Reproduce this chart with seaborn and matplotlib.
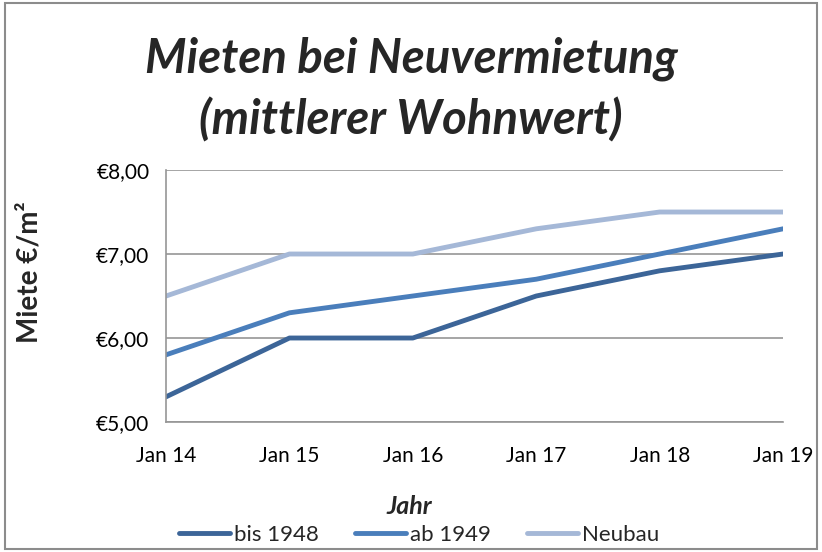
import pandas as pd
import numpy as np
import matplotlib
matplotlib.use("Agg")
import matplotlib.pyplot as plt
import seaborn as sns
from matplotlib.patches import Rectangle
from matplotlib.ticker import FuncFormatter

# data
jahre = ["Jan 14", "Jan 15", "Jan 16", "Jan 17", "Jan 18", "Jan 19"]
bis_1948 = [5.3, 6.0, 6.0, 6.5, 6.8, 7.0]
ab_1949 = [5.8, 6.3, 6.5, 6.7, 7.0, 7.3]
neubau = [6.5, 7.0, 7.0, 7.3, 7.5, 7.5]

serien = ["bis 1948", "ab 1949", "Neubau"]
farben = ["#3C6598", "#4A7EBB", "#A5B8D7"]

df = pd.DataFrame({
    "pos": list(range(len(jahre))) * 3,
    "miete": bis_1948 + ab_1949 + neubau,
    "serie": np.repeat(serien, len(jahre)),
})

sns.set_style("white")
plt.rcParams["font.family"] = ["Lato", "DejaVu Sans"]

fig = plt.figure(figsize=(8.22, 5.52), dpi=100)
ax = fig.add_axes([0.202, 0.2355, 0.7506, 0.4565])

sns.lineplot(data=df, x="pos", y="miete", hue="serie", palette=farben,
             hue_order=serien, linewidth=3.5, ax=ax, solid_capstyle="round")

ax.set_xlim(0, 5)
ax.set_ylim(5, 8)
ax.set_xticks(range(len(jahre)))
ax.set_xticklabels(jahre)
ax.set_yticks([5, 6, 7, 8])
ax.yaxis.set_major_formatter(FuncFormatter(lambda v, p: ("€%.2f" % v).replace(".", ",")))
ax.tick_params(axis="both", labelsize=15, labelcolor="#000000", length=6,
               width=1.2, direction="out", color="#969696")
ax.tick_params(axis="x", pad=11)
ax.tick_params(axis="y", pad=6)
ax.grid(axis="y", color="#969696", linewidth=1.2)
ax.set_axisbelow(True)
for s in ["top", "right"]:
    ax.spines[s].set_visible(False)
for s in ["left", "bottom"]:
    ax.spines[s].set_color("#969696")
    ax.spines[s].set_linewidth(1.2)

ax.set_xlabel("Jahr", fontsize=18, fontweight="bold", style="italic")
ax.set_ylabel("Miete €/m²", fontsize=20, fontweight="bold")
ax.xaxis.set_label_coords(0.395, -0.29)
ax.yaxis.set_label_coords(-0.20, 0.595)

fig.text(0.5, 0.893, "Mieten bei Neuvermietung", ha="center", va="center",
         fontsize=34, fontweight="bold", style="italic")
fig.text(0.5, 0.783, "(mittlerer Wohnwert)", ha="center", va="center",
         fontsize=34, fontweight="bold", style="italic")

leg = ax.legend(loc="center", bbox_to_anchor=(0.51, 0.031), bbox_transform=fig.transFigure,
                ncol=3, frameon=False, fontsize=16, handlelength=2.3,
                handletextpad=0.2, columnspacing=1.6)
for h in leg.get_lines():
    h.set_linewidth(3.5)

fig.patches.append(Rectangle((0.006, 0.006), 0.988, 0.988, transform=fig.transFigure,
                             fill=False, edgecolor="#8C8C8C", linewidth=1.5))

fig.savefig("out.png", dpi=100)
